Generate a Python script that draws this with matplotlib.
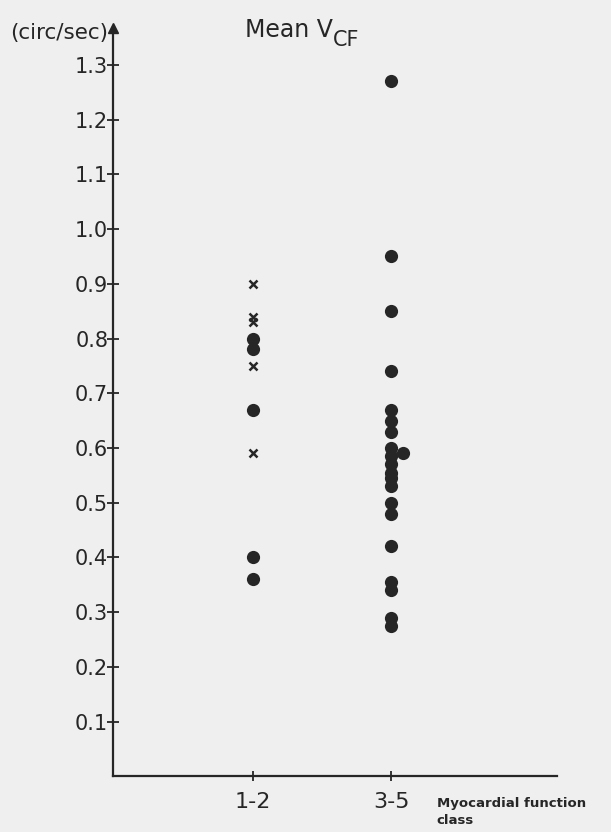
import matplotlib
matplotlib.use('Agg')
from matplotlib import pyplot as plt

# data (circ/sec)
class_labels = ['1-2', '3-5']
dots_12 = [0.80, 0.78, 0.67, 0.40, 0.36]
crosses_12 = [0.90, 0.84, 0.83, 0.75, 0.59]
dots_35 = [1.27, 0.95, 0.85, 0.74, 0.67, 0.65, 0.63, 0.60, 0.585, 0.57,
           0.555, 0.545, 0.53, 0.50, 0.48, 0.42, 0.355, 0.34, 0.29, 0.275]
side_35 = [0.59]
y_ticks = [0.1, 0.2, 0.3, 0.4, 0.5, 0.6, 0.7, 0.8, 0.9, 1.0, 1.1, 1.2, 1.3]
y_ticklabels = ['0.1', '0.2', '0.3', '0.4', '0.5', '0.6', '0.7', '0.8', '0.9', '1.0', '1.1', '1.2', '1.3']

ink = '#262626'
paper = '#efefef'

fig = plt.figure(figsize=(6.11, 8.32), dpi=100, facecolor=paper)
ax = fig.add_axes([0.185, 0.067, 0.727, 0.899])
ax.set_facecolor(paper)

# plot the points
ax.plot([1] * len(dots_12), dots_12, 'o', color=ink, ms=9.5, mec='none')
ax.plot([1] * len(crosses_12), crosses_12, 'x', color=ink, ms=5.5, mew=1.8)
ax.plot([2] * len(dots_35), dots_35, 'o', color=ink, ms=9.5, mec='none')
ax.plot([2.087] * len(side_35), side_35, 'o', color=ink, ms=9.5, mec='none')

ax.set_xlim(-0.014, 3.20)
ax.set_ylim(0, 1.367)

for side in ['top', 'right']:
    ax.spines[side].set_visible(False)
for side in ['left', 'bottom']:
    ax.spines[side].set_linewidth(1.6)
    ax.spines[side].set_color(ink)

ax.set_yticks(y_ticks)
ax.set_yticklabels(y_ticklabels)
ax.set_xticks([1, 2])
ax.set_xticklabels(class_labels)
ax.tick_params(axis='y', direction='inout', length=9, width=1.3, color=ink,
               labelsize=15, labelcolor=ink, pad=-1)
ax.tick_params(axis='x', direction='inout', length=7, width=1.3, color=ink,
               labelsize=16, labelcolor=ink, pad=8)

# arrow head on the y axis
ax.plot([0], [1], marker='^', ms=7, color=ink, transform=ax.transAxes, clip_on=False)

# annotations
fig.text(0.177, 1 - 33 / 832, '(circ/sec)', ha='right', va='center', fontsize=15.5, color=ink)
fig.text(0.401, 1 - 30 / 832, 'Mean V', ha='left', va='center', fontsize=17, color=ink)
fig.text(0.544, 1 - 40 / 832, 'CF', ha='left', va='center', fontsize=15, color=ink)
fig.text(0.715, 1 - 812 / 832, 'Myocardial function\nclass', ha='left', va='center',
         fontsize=9.5, fontweight='bold', color=ink, linespacing=1.3)

fig.savefig('out.png', dpi=100, facecolor=paper)
